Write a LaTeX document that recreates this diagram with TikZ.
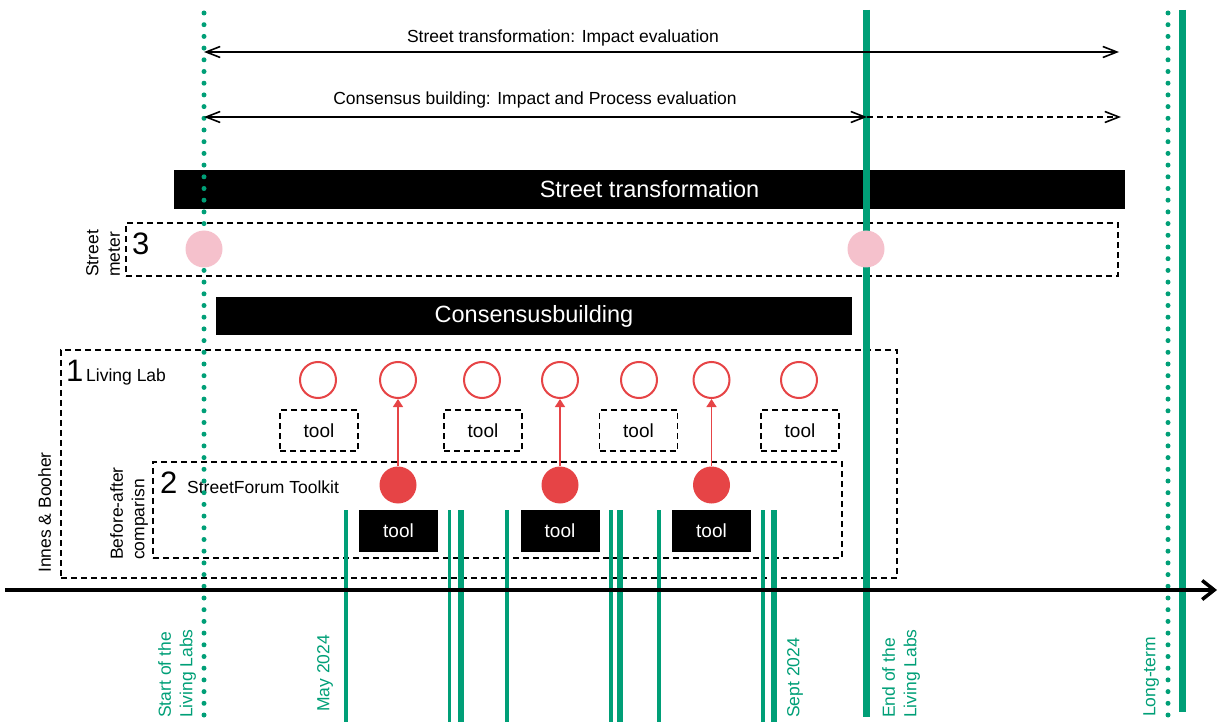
\documentclass[tikz,border=0pt]{standalone}
\usepackage{fontspec}
\setmainfont{Liberation Sans}
\usetikzlibrary{arrows.meta}
\definecolor{tlgreen}{HTML}{009F77}
\definecolor{tlpink}{HTML}{F5C1CC}
\definecolor{tlred}{HTML}{E64446}
\begin{document}
\begin{tikzpicture}[x=1pt,y=-1pt,
  lbl/.style={font=\fontsize{17.5}{21}\selectfont, inner sep=0},
  bignum/.style={font=\fontsize{31}{34}\selectfont, inner sep=0},
  bar/.style={fill=black, draw=none, text=white, font=\fontsize{23.5}{28}\selectfont, inner sep=0},
  dbox/.style={draw=black, line width=1.8pt, dash pattern=on 6pt off 4pt},
  rotlab/.style={font=\fontsize{17.5}{21.5}\selectfont, rotate=90, anchor=north west, align=left, inner sep=0},
  greenlab/.style={rotlab, text=tlgreen},
  dotline/.style={tlgreen, line width=5pt, line cap=round, dash pattern=on 0pt off 11.7pt},
  thickg/.style={tlgreen, line width=7pt},
  thing/.style={tlgreen, line width=3.8pt},
  midg/.style={tlgreen, line width=5.5pt},
  openc/.style={circle, draw=tlred, line width=2pt, minimum size=36pt, inner sep=0},
  fillc/.style={circle, fill=tlred, minimum size=37pt, inner sep=0},
  pinkc/.style={circle, fill=tlpink, minimum size=37pt, inner sep=0},
  toolbox/.style={dbox, minimum width=78pt, minimum height=41pt, font=\fontsize{19}{22}\selectfont, inner sep=0},
  blacktool/.style={fill=black, text=white, minimum width=79pt, minimum height=42pt, font=\fontsize{19}{22}\selectfont, inner sep=0},
  spanarrow/.style={line width=1.6pt, {Straight Barb[length=14pt,width=11pt]}-{Straight Barb[length=14pt,width=11pt]}},
  redarrow/.style={tlred, line width=1.3pt, -{Triangle[length=8pt,width=10pt]}}
]
\useasboundingbox (0,0) rectangle (1219,722);

% bars
\node[bar, minimum width=951pt, minimum height=39pt] (stbar) at (649.5,189.5) {Street transformation};
\node[bar, minimum width=636pt, minimum height=38pt] (cbbar) at (534,316) {Consensusbuilding};

% dashed frames
\node[dbox, minimum width=992pt, minimum height=53pt, inner sep=0] (smbox) at (622,249.5) {};
\node[dbox, minimum width=836pt, minimum height=228pt, inner sep=0] (llbox) at (479,464) {};
\node[dbox, minimum width=689pt, minimum height=96pt, inner sep=0] (sfbox) at (497.5,510) {};

% frame labels
\node[bignum, anchor=base west] (n3) at (132,255) {3};
\node[bignum, anchor=base west] (n1) at (66,381) {1};
\node[lbl, anchor=base west] (lltext) at (86,381) {Living Lab};
\node[bignum, anchor=base west] (n2) at (160,493) {2};
\node[lbl, anchor=base west] (sftext) at (187,493) {StreetForum Toolkit};
\node[rotlab] (smlab) at (86,277) {Street\\meter};
\node[rotlab] (balab) at (110,560) {Before-after\\comparisn};
\node[rotlab] (iblab) at (38,573) {Innes \& Booher};

% tools and circles
\foreach \x [count=\i] in {318,398,482,560,639,711.5,799}
  \node[openc] (oc\i) at (\x,380) {};
\foreach \x [count=\i] in {319,483,638.5,800}
  \node[toolbox] (tb\i) at (\x,430.5) {tool};
\node[fillc] (fc1) at (398,485) {};
\node[fillc] (fc2) at (560,485) {};
\node[fillc] (fc3) at (711.5,485) {};
\node[blacktool] (bt1) at (398.5,531) {tool};
\node[blacktool] (bt2) at (560,531) {tool};
\node[blacktool] (bt3) at (711.5,531) {tool};
\draw[redarrow] (fc1.north) -- (oc2.south);
\draw[redarrow] (fc2.north) -- (oc4.south);
\draw[redarrow] (fc3.north) -- (oc6.south);

% green time lines
\coordinate (st0) at (204,13);   \coordinate (st1) at (204,722);
\coordinate (lt0) at (1168,13);  \coordinate (lt1) at (1168,722);
\coordinate (en0) at (866,10);   \coordinate (en1) at (866,717);
\coordinate (ls0) at (1182,10);  \coordinate (ls1) at (1182,712);
\draw[dotline] (st0) -- (st1);
\draw[dotline] (lt0) -- (lt1);
\draw[thickg] (en0) -- (en1);
\draw[thickg] (ls0) -- (ls1);
\foreach \x in {346,449.5,507,611,659,763}
  \draw[thing] (\x,510) -- (\x,722);
\foreach \x in {461,620,774}
  \draw[midg] (\x,510) -- (\x,722);

% pink meter points
\node[pinkc] (pk1) at (204,249) {};
\node[pinkc] (pk2) at (866,249) {};

% evaluation spans
\coordinate (a1s) at (204,52);  \coordinate (a1e) at (1119,52);
\coordinate (a2s) at (204,117); \coordinate (a2m) at (867,117); \coordinate (a2e) at (1121,117);
\draw[spanarrow] (a1s) -- (a1e);
\draw[spanarrow] (a2s) -- (a2m);
\draw[line width=1.6pt, dash pattern=on 6pt off 4pt, -{Straight Barb[length=14pt,width=11pt]}] (a2m) -- (a2e);
\node[lbl, anchor=base] (t1) at (563,43) {Street transformation: Impact evaluation};
\node[lbl, anchor=base] (t2) at (535,105) {Consensus building: Impact and Process evaluation};

% time axis
\coordinate (ax0) at (5,590); \coordinate (ax1) at (1217,590);
\draw[line width=3.5pt, -{Straight Barb[length=12pt,width=19pt]}] (ax0) -- (ax1);

% time labels
\node[greenlab] (lbstart) at (158,718) {Start of the\\Living Labs};
\node[greenlab] (lbmay) at (317,712) {May 2024};
\node[greenlab] (lbsept) at (787,718) {Sept 2024};
\node[greenlab] (lbend) at (882,718) {End of the\\Living Labs};
\node[greenlab] (lblong) at (1143,717) {Long-term};
\end{tikzpicture}
\end{document}
